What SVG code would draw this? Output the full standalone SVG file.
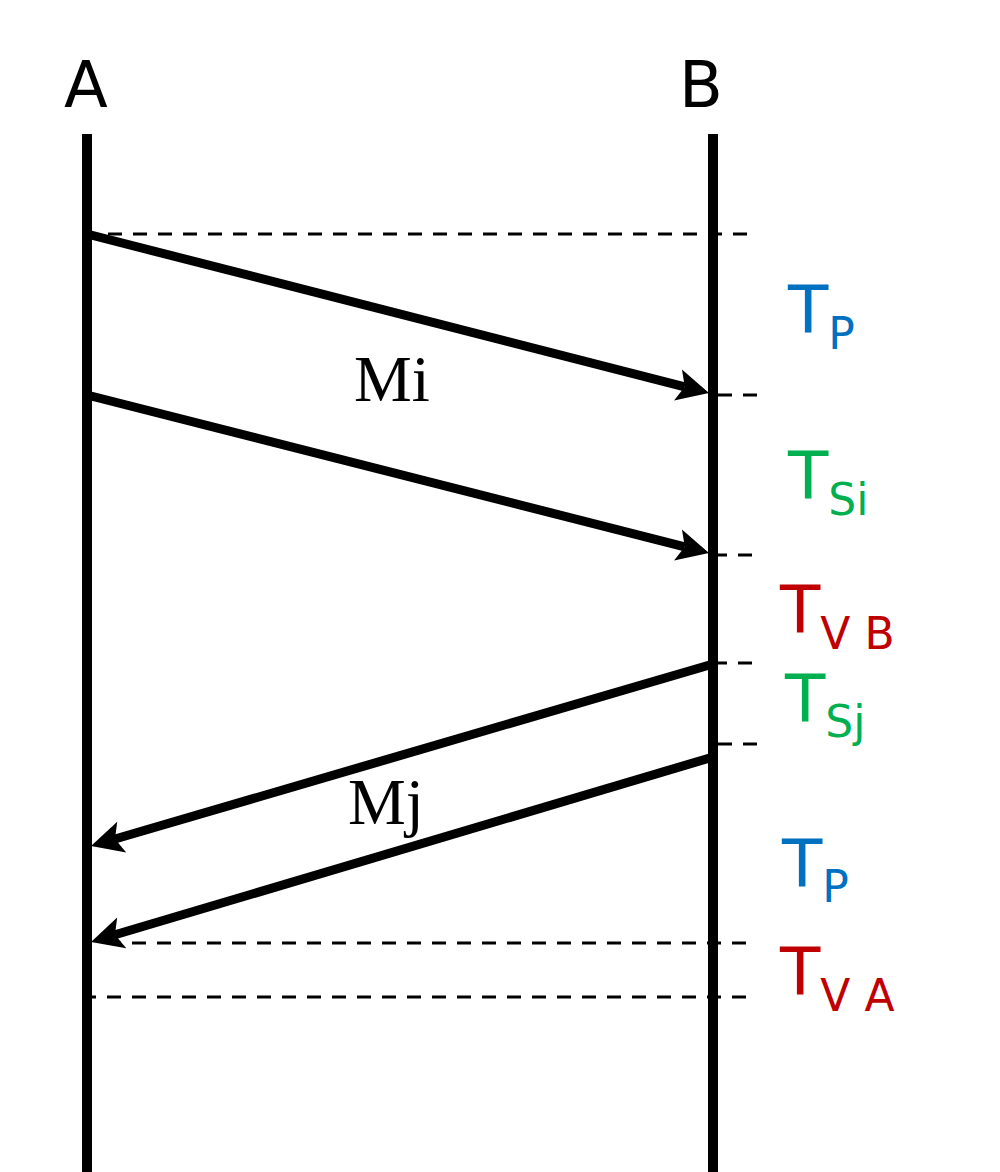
<svg xmlns="http://www.w3.org/2000/svg" width="1000" height="1172" viewBox="0 0 1000 1172">
<style>
.life{stroke:#000;stroke-width:10;fill:none}
.msg{stroke:#000;stroke-width:9;fill:none;marker-end:url(#ah)}
.dash{stroke:#000;stroke-width:3;stroke-dasharray:14 11;fill:none}
.hdr{font-family:"DejaVu Sans",sans-serif;font-size:64px;fill:#000;text-anchor:middle}
.lbl{font-family:"Liberation Serif","Times New Roman",serif;font-size:65px;fill:#000}
.t{font-family:"DejaVu Sans",sans-serif;font-size:66px}
.sub{font-size:44px}
.blue{fill:#0070C0}.green{fill:#00B050}.red{fill:#C00000}
</style>
<defs>
<marker id="ah" markerUnits="userSpaceOnUse" markerWidth="34" markerHeight="34" viewBox="0 0 34 34" refX="7" refY="17" orient="auto" overflow="visible">
<path d="M0,1 L32,17 L0,33 L7,17 Z" fill="#000"/>
</marker>
</defs>
<rect width="1000" height="1172" fill="#fff"/>
<g id="lifeline-A">
<text class="hdr" x="86" y="107">A</text>
<line class="life" x1="87" y1="134" x2="87" y2="1172"/>
</g>
<g id="lifeline-B">
<text class="hdr" x="701" y="107">B</text>
<line class="life" x1="713" y1="134" x2="713" y2="1172"/>
</g>
<g id="guides">
<line class="dash" x1="108" y1="234" x2="748" y2="234"/>
<line class="dash" x1="718" y1="395" x2="757" y2="395"/>
<line class="dash" x1="713" y1="555" x2="752" y2="555"/>
<line class="dash" x1="713" y1="663" x2="752" y2="663"/>
<line class="dash" x1="718" y1="744" x2="757" y2="744"/>
<line class="dash" x1="107" y1="943" x2="748" y2="943"/>
<line class="dash" x1="82" y1="997" x2="748" y2="997"/>
</g>
<g id="connectors">
<line class="msg" x1="87" y1="234" x2="684.8" y2="386.8"/>
<line class="msg" x1="87" y1="395" x2="684.8" y2="546.8"/>
<line class="msg" x1="713" y1="664" x2="115" y2="839"/>
<line class="msg" x1="713" y1="757" x2="115" y2="934.8"/>
<text class="lbl" x="354" y="401">Mi</text>
<text class="lbl" x="348" y="824">Mj</text>
</g>
<g id="labels">
<text class="t blue" x="788" y="333">T<tspan class="sub" dy="16">P</tspan></text>
<text class="t green" x="788" y="499">T<tspan class="sub" dy="16">Si</tspan></text>
<text class="t red" x="780" y="633">T<tspan class="sub" dy="16">V B</tspan></text>
<text class="t green" x="785" y="722">T<tspan class="sub" dy="15">Sj</tspan></text>
<text class="t blue" x="782" y="887">T<tspan class="sub" dy="15">P</tspan></text>
<text class="t red" x="780" y="995">T<tspan class="sub" dy="16">V A</tspan></text>
</g>
</svg>
